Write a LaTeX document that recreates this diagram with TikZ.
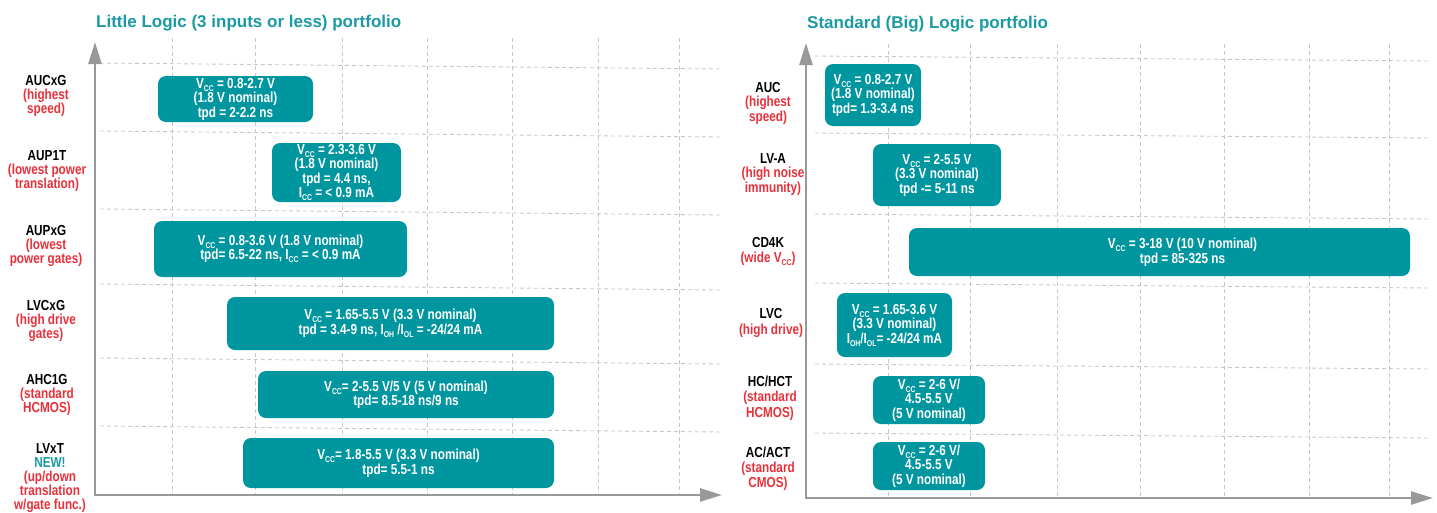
\documentclass[tikz,border=0pt]{standalone}
\usepackage{fontspec}
\setmainfont{Liberation Sans}[FakeStretch=0.81]
\newfontfamily\headfont{Liberation Sans}
\usetikzlibrary{arrows.meta}

\definecolor{boxTeal}{HTML}{0096A0}
\definecolor{headTeal}{HTML}{1A9AA2}
\definecolor{noteRed}{HTML}{E8303A}
\definecolor{axisGray}{HTML}{999999}
\definecolor{gridGray}{HTML}{C8C8C8}

% small lowered subscript used in V_CC, I_OH, ...
\newcommand{\sbx}[1]{\raisebox{-3pt}{\fontsize{8.5}{8.5}\selectfont #1}}
\newcommand{\rd}[1]{\textcolor{noteRed}{#1}}

\tikzset{
  axisline/.style={axisGray, line width=2.4pt, line cap=rect,
    -{Triangle[length=22pt,width=13pt]}},
  gridline/.style={gridGray, line width=0.9pt, dash pattern=on 4pt off 3pt},
  famBox/.style={fill=boxTeal, rounded corners=8pt, text=white,
    font=\bfseries\fontsize{14.5}{14.5}\selectfont, align=center, inner sep=1pt},
  % anchored at the baseline of the last line
  famLabel/.style={font=\bfseries\fontsize{14.5}{14}\selectfont, align=center,
    anchor=base, inner sep=0pt},
  heading/.style={font=\headfont\bfseries\fontsize{17}{17}\selectfont,
    text=headTeal, anchor=base west, inner sep=0pt},
}

\begin{document}
\begin{tikzpicture}[x=1pt, y=-1pt]
\useasboundingbox (0,0) rectangle (1437,512);

% ---------------- Little Logic ----------------
\node[heading] (ltitle) at (96,27) {Little Logic (3 inputs or less) portfolio};

\foreach \gx in {172,255,342,427,512,598,679}
  \draw[gridline] (\gx,38) -- (\gx,495);
\foreach \gy in {63,131,209,284,358,426}
  \draw[gridline] (100,\gy) -- (720,\gy+6);

\coordinate (lorigin) at (95,495);
\coordinate (ltop) at (95,42);
\coordinate (lright) at (722,495);
\draw[axisline] (lorigin) -- (ltop);
\draw[axisline] (lorigin) -- (lright);

\node[famBox, minimum width=155pt, minimum height=46pt] (aucxg) at (235.5,99)
  {V\sbx{CC} = 0.8-2.7 V\\(1.8 V nominal)\\tpd = 2-2.2 ns};
\node[famBox, minimum width=129pt, minimum height=59pt] (aup1t) at (336.5,172.5)
  {V\sbx{CC} = 2.3-3.6 V\\(1.8 V nominal)\\tpd = 4.4 ns,\\I\sbx{CC} = < 0.9 mA};
\node[famBox, minimum width=253pt, minimum height=56pt] (aupxg) at (280.5,249)
  {V\sbx{CC} = 0.8-3.6 V (1.8 V nominal)\\tpd= 6.5-22 ns, I\sbx{CC} = < 0.9 mA};
\node[famBox, minimum width=327pt, minimum height=53pt] (lvcxg) at (390.5,323.5)
  {V\sbx{CC} = 1.65-5.5 V (3.3 V nominal)\\tpd = 3.4-9 ns, I\sbx{OH} /I\sbx{OL} = -24/24 mA};
\node[famBox, minimum width=296pt, minimum height=47pt] (ahc1g) at (406,394.5)
  {V\sbx{CC}= 2-5.5 V/5 V (5 V nominal)\\tpd= 8.5-18 ns/9 ns};
\node[famBox, minimum width=311pt, minimum height=50pt] (lvxt) at (398.5,463)
  {V\sbx{CC}= 1.8-5.5 V (3.3 V nominal)\\tpd= 5.5-1 ns};

\node[famLabel] (laucxg) at (46,113) {AUCxG\\\rd{(highest}\\\rd{speed)}};
\node[famLabel] (laup1t) at (47,188) {AUP1T\\\rd{(lowest power}\\\rd{translation)}};
\node[famLabel] (laupxg) at (46,263) {AUPxG\\\rd{(lowest}\\\rd{power gates)}};
\node[famLabel] (llvcxg) at (46,338) {LVCxG\\\rd{(high drive}\\\rd{gates)}};
\node[famLabel] (lahc1g) at (47,412) {AHC1G\\\rd{(standard}\\\rd{HCMOS)}};
\node[famLabel] (llvxt) at (50,509)
  {LVxT\\\textcolor{headTeal}{NEW!}\\\rd{(up/down}\\\rd{translation}\\\rd{w/gate func.)}};

% ---------------- Standard Logic ----------------
\node[heading] (rtitle) at (807,28) {Standard (Big) Logic portfolio};

\foreach \gx in {888,970,1057,1140,1224,1309,1389}
  \draw[gridline] (\gx,44) -- (\gx,498);
\foreach \gy in {56,133,214,283,364,433}
  \draw[gridline] (815,\gy) -- (1430,\gy+5);

\coordinate (rorigin) at (806,498);
\coordinate (rtop) at (806,43);
\coordinate (rright) at (1433,498);
\draw[axisline] (rorigin) -- (rtop);
\draw[axisline] (rorigin) -- (rright);

\node[famBox, minimum width=96pt, minimum height=62pt] (auc) at (873,95)
  {V\sbx{CC} = 0.8-2.7 V\\(1.8 V nominal)\\tpd= 1.3-3.4 ns};
\node[famBox, minimum width=128pt, minimum height=62pt] (lva) at (937,175)
  {V\sbx{CC} = 2-5.5 V\\(3.3 V nominal)\\tpd -= 5-11 ns};
\node[famBox, minimum width=501pt, minimum height=48pt] (cd4k) at (1159.5,252)
  {\hspace*{46pt}V\sbx{CC} = 3-18 V (10 V nominal)\\\hspace*{46pt}tpd = 85-325 ns};
\node[famBox, minimum width=115pt, minimum height=64pt] (lvc) at (894.5,325)
  {V\sbx{CC} = 1.65-3.6 V\\(3.3 V nominal)\\I\sbx{OH}/I\sbx{OL}= -24/24 mA};
\node[famBox, minimum width=112pt, minimum height=48pt] (hc) at (929,400)
  {V\sbx{CC} = 2-6 V/\\4.5-5.5 V\\(5 V nominal)};
\node[famBox, minimum width=112pt, minimum height=48pt] (ac) at (929,466)
  {V\sbx{CC} = 2-6 V/\\4.5-5.5 V\\(5 V nominal)};

\node[famLabel, font=\bfseries\fontsize{14.5}{14.5}\selectfont] (lauc) at (768,121)
  {AUC\\\rd{(highest}\\\rd{speed)}};
\node[famLabel, font=\bfseries\fontsize{14.5}{14.5}\selectfont] (llva) at (773,192)
  {LV-A\\\rd{(high noise}\\\rd{immunity)}};
\node[famLabel, font=\bfseries\fontsize{14.5}{15}\selectfont] (lcd4k) at (768,262)
  {CD4K\\\rd{(wide V\sbx{CC})}};
\node[famLabel, font=\bfseries\fontsize{14.5}{16}\selectfont] (llvc) at (771,334)
  {LVC\\\rd{(high drive)}};
\node[famLabel, font=\bfseries\fontsize{14.5}{15.5}\selectfont] (lhc) at (770,417)
  {HC/HCT\\\rd{(standard}\\\rd{HCMOS)}};
\node[famLabel, font=\bfseries\fontsize{14.5}{15}\selectfont] (lac) at (768,487)
  {AC/ACT\\\rd{(standard}\\\rd{CMOS)}};
\end{tikzpicture}
\end{document}
